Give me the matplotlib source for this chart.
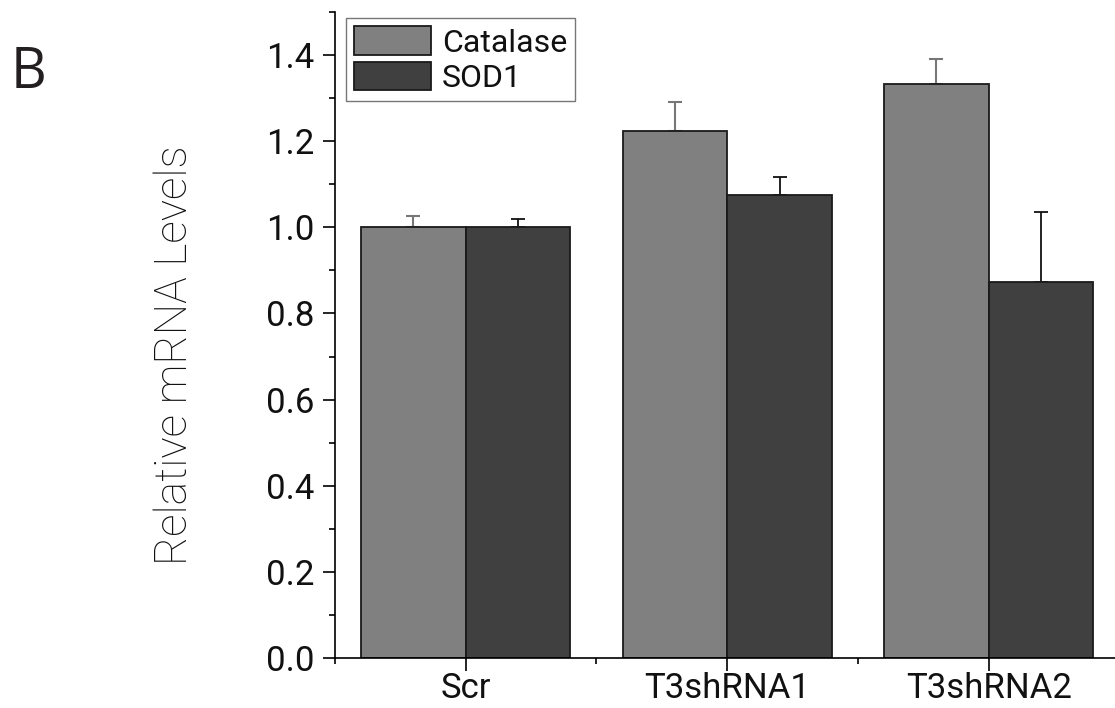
import matplotlib
matplotlib.use("Agg")
import matplotlib.pyplot as plt
from matplotlib.ticker import MultipleLocator, FixedLocator
import numpy as np

categories = ["Scr", "T3shRNA1", "T3shRNA2"]
catalase = [1.00, 1.224, 1.333]
catalase_err = [0.026, 0.067, 0.058]
sod1 = [1.00, 1.075, 0.873]
sod1_err = [0.019, 0.042, 0.162]
series_names = ["Catalase", "SOD1"]

FONT = ['Roboto', 'DejaVu Sans']

fig = plt.figure(figsize=(11.15, 7.08), dpi=100)
ax = fig.add_axes([335/1115, 50/708, (1119.5-335)/1115, (658-12)/708])

x = np.arange(len(categories))
w = 0.4
ax.bar(x - w/2, catalase, w, color='#808080', edgecolor='#1a1a1a', linewidth=1.3, label=series_names[0], zorder=2)
ax.bar(x + w/2, sod1, w, color='#404040', edgecolor='#1a1a1a', linewidth=1.3, label=series_names[1], zorder=2)
ax.errorbar(x - w/2, catalase, yerr=[np.zeros(3), catalase_err], fmt='none', ecolor='#777777',
            elinewidth=1.5, capsize=4.7, capthick=1.5, zorder=1)
ax.errorbar(x + w/2, sod1, yerr=[np.zeros(3), sod1_err], fmt='none', ecolor='#111111',
            elinewidth=1.3, capsize=4.7, capthick=1.3, zorder=1)

ax.set_xlim(-0.5, 2.5)
ax.set_ylim(0, 1.5)
ax.spines['top'].set_visible(False)
ax.spines['right'].set_visible(False)
for s in ['left', 'bottom']:
    ax.spines[s].set_linewidth(1.2)

ax.set_xticks(x)
ax.set_xticklabels(categories, fontsize=25, family=FONT, color='#111111')
ax.xaxis.set_minor_locator(FixedLocator([-0.5, 0.5, 1.5]))
ax.set_yticks(np.arange(0, 1.41, 0.2))
ax.set_yticklabels([f"{v:.1f}" for v in np.arange(0, 1.41, 0.2)], fontsize=25, family=FONT, color='#111111')
ax.yaxis.set_minor_locator(MultipleLocator(0.1))
ax.tick_params(axis='both', which='major', direction='out', length=9, width=1.2)
ax.tick_params(axis='y', which='major', pad=6)
ax.tick_params(axis='x', which='major', pad=1)
ax.tick_params(axis='both', which='minor', direction='out', length=4.5, width=1.2)

leg = ax.legend(loc='upper left', bbox_to_anchor=(0.014, 0.99), prop={'family': FONT, 'size': 23},
                frameon=True, fancybox=False, edgecolor='#555555', handlelength=2.4, handleheight=1.0,
                handletextpad=0.35, borderpad=0.25, labelspacing=0.12, borderaxespad=0)
leg.get_frame().set_linewidth(1.0)
for t in leg.get_texts():
    t.set_color('#111111')

fig.text(175/1115, 1 - 355/708, "Relative mRNA Levels", rotation=90, ha='center', va='center',
         fontsize=32, family=FONT, fontweight='light', color='#111111')
fig.text(11/1115, 1 - 73/708, "B", ha='left', va='center', fontsize=40, family=['Open Sans', 'DejaVu Sans'], color='#231f20')

fig.savefig("out.png", dpi=100)
